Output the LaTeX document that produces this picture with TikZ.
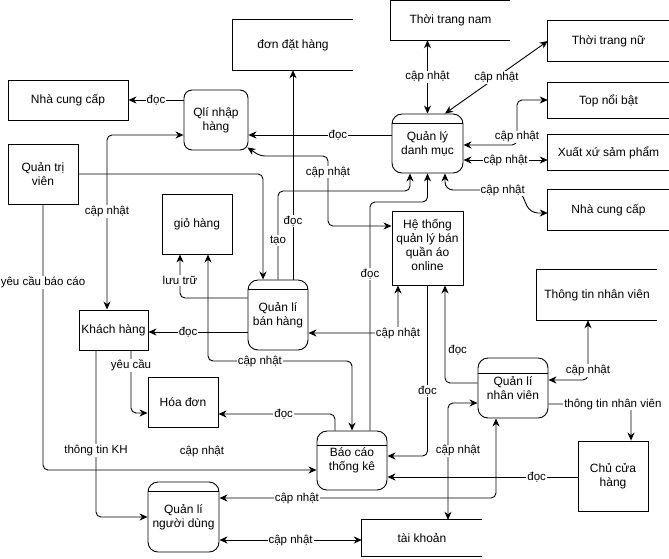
\documentclass[tikz,border=0pt]{standalone}
\usepackage{fontspec}
\setmainfont{Liberation Sans}
\usetikzlibrary{arrows.meta,calc}
\begin{document}
\begin{tikzpicture}[x=1pt,y=-1pt,
  every node/.style={font=\fontsize{12}{14}\selectfont},
  bx/.style={draw, line width=0.9pt, align=center, inner sep=0pt},
  st/.style={align=center, inner sep=0pt},
  proc/.style={bx, rounded corners=10pt, path picture={\draw[line width=0.9pt] ([yshift=-#1]path picture bounding box.north west) -- ([yshift=-#1]path picture bounding box.north east);}},
  tip/.tip={Stealth[length=8pt,width=7pt,inset=2.5pt]},
  ar/.style={draw, line width=0.9pt, rounded corners=5pt, -tip},
  bi/.style={draw, line width=0.9pt, rounded corners=5pt, tip-tip},
  lbl/.style={fill=white, inner sep=1pt, rounded corners=0pt, font=\fontsize{11.5}{13}\selectfont},
  lblfree/.style={inner sep=1pt, font=\fontsize{11.5}{13}\selectfont}
]
\useasboundingbox (0,0) rectangle (669,558);

% ---------- nodes ----------
\node[bx, minimum width=120pt, minimum height=40pt] (nccL) at (68,100) {Nhà cung cấp};
\node[bx, minimum width=70pt, minimum height=60pt] (qtv) at (43,174) {Quản trị\\viên};
\node[bx, rounded corners=8pt, minimum width=64pt, minimum height=60pt] (qnh) at (216,120) {Qlí nhập\\hàng};
\node[st, minimum width=120pt, minimum height=50pt] (ddh) at (293,45) {đơn đặt hàng};
\node[st, minimum width=119pt, minimum height=39pt] (ttnam) at (450.5,20.5) {Thời trang nam};
\node[st, minimum width=121pt, minimum height=40pt] (ttnu) at (608.5,41) {Thời trang nữ};
\node[st, minimum width=121pt, minimum height=35pt] (top) at (608.5,100.5) {Top nổi bật};
\node[st, minimum width=121pt, minimum height=35pt] (xx) at (608.5,152.5) {Xuất xứ sảm phẩm};
\node[st, minimum width=121pt, minimum height=40pt] (nccR) at (608.5,210) {Nhà cung cấp};
\node[proc=9pt, minimum width=71pt, minimum height=59pt] (dm) at (427.5,143.5) {Quản lý\\danh mục};
\node[bx, minimum width=71pt, minimum height=74pt] (ht) at (427.5,248) {Hệ thống\\quản lý bán\\quần áo\\online\\[-8pt]\mbox{}};
\node[st, minimum width=120pt, minimum height=50pt] (ttnv) at (597,295) {Thông tin nhân viên};
\node[bx, minimum width=70pt, minimum height=60pt] (gh) at (197,224) {giỏ hàng};
\node[proc=9pt, minimum width=60pt, minimum height=70pt] (qlbh) at (278,315) {Quản lí\\bán hàng};
\node[bx, minimum width=69pt, minimum height=40pt] (kh) at (113.5,330) {Khách hàng};
\node[bx, minimum width=70pt, minimum height=50pt] (hd) at (183,402) {Hóa đơn};
\node[proc=14pt, minimum width=70pt, minimum height=59pt] (bc) at (352,460.5) {Báo cáo\\thống kê};
\node[proc=15pt, minimum width=70pt, minimum height=60pt] (qlnv) at (513,388) {Quản lí\\nhân viên};
\node[bx, minimum width=70pt, minimum height=70pt] (cch) at (613,476) {Chủ cửa\\hàng};
\node[proc=9pt, minimum width=71pt, minimum height=70pt] (qlnd) at (183.5,517) {Quản lí\\người dùng};
\node[st, minimum width=120pt, minimum height=36pt] (tk) at (422,538) {tài khoản};

% open-ended stores
\foreach \n in {ddh,ttnam,ttnu,top,xx,nccR,ttnv,tk}
  \draw[line width=0.9pt] (\n.north east) -- (\n.north west) -- (\n.south west) -- (\n.south east);

% ---------- connectors ----------
\draw[ar] (qnh.west |- 0,100) -- node[lbl]{đọc} (nccL.east);
\draw[ar] (dm.west |- 0,135) -- node[lbl,pos=0.375]{đọc} (qnh.east |- 0,135);
\draw[bi] (ht.west |- 0,226) -- (328,226) -- node[lbl,pos=0.77]{cập nhật} (328,156) -- (260,156) -- ([shift={(-1,-3)}]qnh.south east);
\draw[ar] (qtv.east) -| ([xshift=-15pt]qlbh.north);
\draw[bi] (qnh.west |- 0,135) -| node[lbl,pos=0.72]{cập nhật} ([xshift=-6.5pt]kh.north);
\draw[ar] (qtv.south) |- node[lbl,pos=0.147]{yêu cầu báo cáo} (bc.west |- 0,470);
\node[lblfree] (fl) at (202,451) {cập nhật};
\draw[ar] ([xshift=-17.5pt]kh.south) |- node[lbl,pos=0.3]{thông tin KH} (qlnd.west);
\draw[ar] ([xshift=17.5pt]kh.south) |- node[lbl,pos=0.12]{yêu cầu} (hd.west |- 0,413);
\draw[ar] (qlbh.west |- 0,332) -- node[lbl,pos=0.6]{đọc} (kh.east |- 0,332);
\draw[ar] (qlbh.west |- 0,298) -| node[lbl,pos=0.7]{lưu trữ} ([xshift=-17pt]gh.south);
\draw[bi] ([xshift=11pt]gh.south) |- node[lbl,pos=0.68]{cập nhật} (bc.north |- 0,361) -- (bc.north);
\draw[ar] ([xshift=15pt]qlbh.north) -- node[lbl,pos=0.28]{đọc} (ddh.south);
\draw[ar] (qlbh.north) -- node[lbl,pos=0.44]{tạo} (qlbh.north |- 0,191) -| ([xshift=-17.5pt]dm.south);
\draw[ar] ([xshift=18pt]bc.north) -- node[lbl,pos=0.686]{đọc} (370,202) -| (dm.south);
\draw[bi, rounded corners=8pt] ([xshift=17.5pt]dm.south) -- (445,190) -- node[lbl,pos=0.77]{cập nhật} (520,190) -- (530,213) -- (nccR.west |- 0,213);
\draw[bi] (dm.north) -- node[lbl]{cập nhật} (dm.north |- ttnam.south);
\draw[bi] ([xshift=17.5pt]dm.north) -- node[lbl]{cập nhật} (ttnu.west);
\draw[bi] (dm.east |- 0,145) -- (517,145) -- node[lbl,pos=0.18]{cập nhật} (517,100) -- (top.west |- 0,100);
\draw[bi] (dm.east |- 0,160) -- node[lbl]{cập nhật} (xx.west |- 0,160);
\draw[bi] ([xshift=-29.5pt]ht.south) |- node[lbl,pos=0.5]{cập nhật} (qlbh.east |- 0,333);
\draw[ar] (ht.south) |- node[lbl,pos=0.31]{đọc} (bc.east |- 0,456);
\draw[ar] (qlnv.west |- 0,383) -| node[lblfree,pos=0.67,anchor=west,xshift=2pt]{đọc} ([xshift=17.5pt]ht.south);
\draw[bi] ([xshift=-9pt]ttnv.south) |- node[lbl,pos=0.42]{cập nhật} (qlnv.east |- 0,380);
\draw[ar] (qlnv.east |- 0,404) -| node[lbl,pos=0.39]{thông tin nhân viên} ([xshift=18pt]cch.north);
\draw[ar] (cch.west |- 0,477) -- node[lbl,pos=0.215]{đọc} (bc.east |- 0,477);
\draw[bi] ([xshift=-17pt]qlnv.south) |- node[lbl,pos=0.86]{cập nhật} (qlnd.east |- 0,498);
\draw[bi] (qlnv.west |- 0,403) -| node[lbl,pos=0.705,xshift=10pt]{cập nhật} (tk.north -| 448,0);
\draw[bi] (tk.west |- 0,540) -- node[lbl]{cập nhật} (qlnd.east |- 0,540);
\draw[ar] ([xshift=-17pt]bc.north) |- node[lbl,pos=0.72]{đọc} (hd.east |- 0,414);
\end{tikzpicture}
\end{document}
